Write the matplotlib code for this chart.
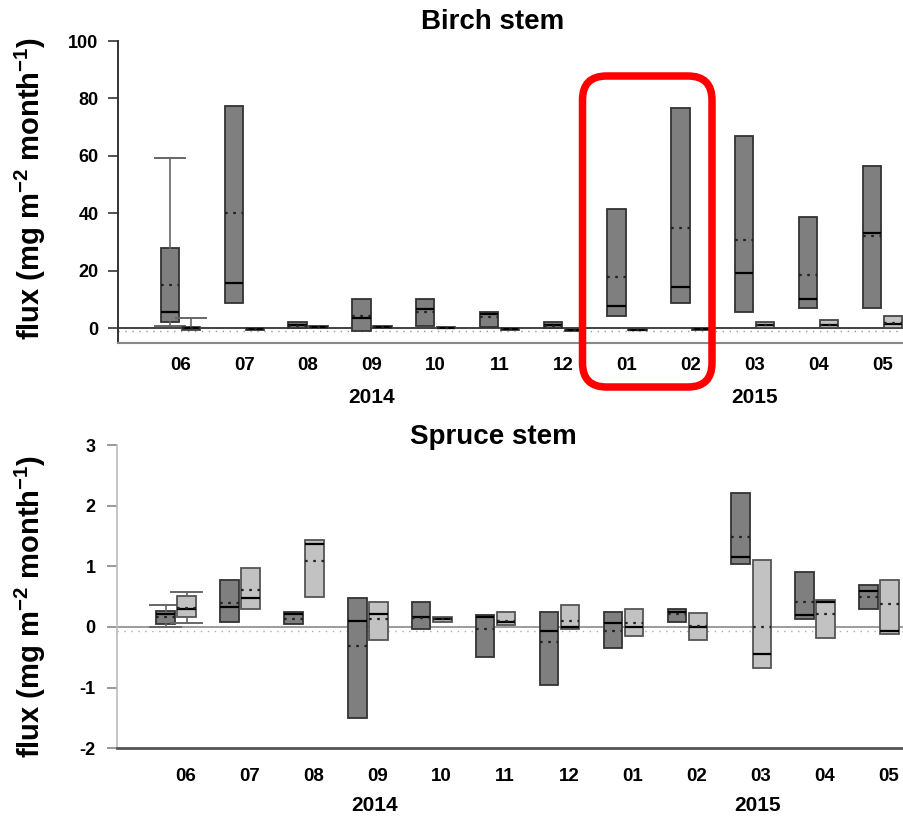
import numpy as np
import matplotlib.pyplot as plt
from matplotlib.patches import FancyBboxPatch

plt.rcParams['font.family'] = ['Liberation Sans', 'DejaVu Sans']
plt.rcParams['mathtext.fontset'] = 'custom'
plt.rcParams['mathtext.rm'] = 'Liberation Sans:bold'
plt.rcParams['mathtext.bf'] = 'Liberation Sans:bold'
plt.rcParams['axes.unicode_minus'] = False

months = ['06', '07', '08', '09', '10', '11', '12', '01', '02', '03', '04', '05']
years = ['2014', '2015']
year_month = [3, 9]

# Birch stem, first series (dark): quartiles, median, mean, whiskers (None = no whisker)
birch_a_q1 = [2.3, 8.7, 0.0, -0.9, 0.8, 0.6, 0.0, 4.3, 8.7, 5.8, 7.2, 7.2]
birch_a_med = [5.7, 15.7, 1.0, 3.5, 6.6, 5.0, 1.0, 7.8, 14.4, 19.4, 10.1, 33.1]
birch_a_q3 = [27.9, 77.5, 2.2, 10.3, 10.1, 5.8, 2.2, 41.6, 76.6, 66.8, 38.9, 56.5]
birch_a_mean = [15.0, 40.1, 0.8, 4.4, 5.8, 3.8, 0.8, 17.9, 35.0, 30.8, 18.6, 32.2]
birch_a_wlo = [0.9, None, None, None, None, None, None, None, None, None, None, None]
birch_a_whi = [59.4, None, None, None, None, None, None, None, None, None, None, None]

# Birch stem, second series (light)
birch_b_q1 = [-0.4, -0.5, 0.0, 0.0, 0.0, -0.5, -0.8, -0.6, -0.5, 0.0, 0.0, 0.0]
birch_b_med = [0.0, -0.2, 0.5, 0.4, 0.2, -0.3, -0.5, -0.4, -0.3, 1.0, 1.0, 1.5]
birch_b_q3 = [0.4, 0.0, 0.9, 0.9, 0.4, -0.1, -0.3, -0.2, -0.1, 2.2, 2.9, 4.4]
birch_b_mean = [0.0, -0.2, 0.5, 0.5, 0.2, -0.3, -0.5, -0.4, -0.3, 1.0, 1.2, 1.8]
birch_b_wlo = [None] * 12
birch_b_whi = [3.5, None, None, None, None, None, None, None, None, None, None, None]

# Spruce stem, first series (dark)
spruce_a_q1 = [0.05, 0.09, 0.05, -1.50, -0.04, -0.49, -0.96, -0.35, 0.09, 1.04, 0.13, 0.29]
spruce_a_med = [0.21, 0.33, 0.22, 0.10, 0.16, 0.16, -0.07, 0.07, 0.25, 1.15, 0.19, 0.59]
spruce_a_q3 = [0.27, 0.77, 0.25, 0.47, 0.41, 0.19, 0.25, 0.24, 0.30, 2.21, 0.91, 0.69]
spruce_a_mean = [0.17, 0.40, 0.13, -0.31, 0.15, -0.03, -0.25, -0.06, 0.21, 1.48, 0.42, 0.50]
spruce_a_wlo = [0.0, None, None, None, None, None, None, None, None, None, None, None]
spruce_a_whi = [0.37, None, None, None, None, None, None, None, None, None, None, None]

# Spruce stem, second series (light)
spruce_b_q1 = [0.16, 0.30, 0.50, -0.21, 0.09, 0.03, -0.04, -0.15, -0.21, -0.68, -0.18, -0.11]
spruce_b_med = [0.30, 0.47, 1.37, 0.21, 0.13, 0.09, 0.00, 0.00, 0.00, -0.45, 0.42, -0.06]
spruce_b_q3 = [0.51, 0.98, 1.43, 0.41, 0.16, 0.25, 0.37, 0.30, 0.23, 1.11, 0.44, 0.77]
spruce_b_mean = [0.31, 0.61, 1.08, 0.13, 0.13, 0.10, 0.10, 0.07, 0.02, 0.00, 0.22, 0.38]
spruce_b_wlo = [0.07, None, None, None, None, None, None, None, None, None, None, None]
spruce_b_whi = [0.58, None, None, None, None, None, None, None, None, None, None, None]

DARK = '#7f7f7f'
LIGHT = '#c2c2c2'
x = np.arange(len(months))


def draw_boxes(ax, pos, q1, med, q3, mean, wlo, whi, face, edge):
    stats = []
    for i in range(len(pos)):
        lo = q1[i] if wlo[i] is None else wlo[i]
        hi = q3[i] if whi[i] is None else whi[i]
        stats.append(dict(q1=q1[i], med=med[i], q3=q3[i], mean=mean[i],
                          whislo=lo, whishi=hi, fliers=[]))
    bp = ax.bxp(stats, positions=pos, widths=0.29, capwidths=0.48,
                patch_artist=True, showmeans=True, meanline=True,
                manage_ticks=False, zorder=3,
                boxprops=dict(facecolor=face, edgecolor=edge, linewidth=1.3),
                medianprops=dict(color='black', linewidth=1.6),
                meanprops=dict(color='#222222', linestyle=(0, (1.2, 2.5)), linewidth=1.6),
                whiskerprops=dict(color='#666666', linewidth=1.2),
                capprops=dict(color='#666666', linewidth=1.4))
    # hide whiskers and caps where there are none
    for i in range(len(pos)):
        if wlo[i] is None:
            bp['whiskers'][2 * i].set_visible(False)
            bp['caps'][2 * i].set_visible(False)
        if whi[i] is None:
            bp['whiskers'][2 * i + 1].set_visible(False)
            bp['caps'][2 * i + 1].set_visible(False)
    return bp


fig = plt.figure(figsize=(9.04, 8.17), dpi=100)

# ---- Birch stem ----
ax1 = fig.add_axes([0.1305, 0.5798, 0.8695, 0.3700])
draw_boxes(ax1, x - 0.165, birch_a_q1, birch_a_med, birch_a_q3, birch_a_mean,
           birch_a_wlo, birch_a_whi, DARK, '#333333')
draw_boxes(ax1, x + 0.165, birch_b_q1, birch_b_med, birch_b_q3, birch_b_mean,
           birch_b_wlo, birch_b_whi, LIGHT, '#444444')
ax1.axhline(0, color='#333333', lw=1.3, zorder=1)
ax1.axhline(-0.75, color='#999999', lw=1.0, ls=(0, (1, 4)), zorder=1)
ax1.set_xlim(-0.98, 11.34)
ax1.set_ylim(-5.2, 100)
ax1.set_yticks([0, 20, 40, 60, 80, 100])
ax1.set_xticks(x)
ax1.set_xticklabels(months, fontsize=13.5, fontweight='bold')
ax1.tick_params(axis='x', length=0, pad=10)
ax1.tick_params(axis='y', length=7, width=1.2, color='#333333', pad=7, labelsize=13)
for lab in ax1.get_yticklabels():
    lab.set_fontweight('bold')
ax1.spines['top'].set_visible(False)
ax1.spines['right'].set_visible(False)
ax1.spines['left'].set_color('#333333')
ax1.spines['left'].set_linewidth(1.4)
ax1.spines['bottom'].set_color('#888888')
ax1.spines['bottom'].set_linewidth(1.5)
for yr, m in zip(years, year_month):
    ax1.text(m, -0.18, yr, transform=ax1.get_xaxis_transform(),
             ha='center', va='center', fontsize=15, fontweight='bold')

# ---- Spruce stem ----
ax2 = fig.add_axes([0.1289, 0.0841, 0.8711, 0.3712])
draw_boxes(ax2, x - 0.165, spruce_a_q1, spruce_a_med, spruce_a_q3, spruce_a_mean,
           spruce_a_wlo, spruce_a_whi, DARK, '#333333')
draw_boxes(ax2, x + 0.165, spruce_b_q1, spruce_b_med, spruce_b_q3, spruce_b_mean,
           spruce_b_wlo, spruce_b_whi, LIGHT, '#555555')
ax2.axhline(0, color='#8a8a8a', lw=1.2, zorder=1)
ax2.axhline(-0.07, color='#aaaaaa', lw=1.0, ls=(0, (1, 4)), zorder=1)
ax2.set_xlim(-0.933, 11.39)
ax2.set_ylim(-2, 3)
ax2.set_yticks([-2, -1, 0, 1, 2, 3])
ax2.set_xticks(x + 0.15)
ax2.set_xticklabels(months, fontsize=13.5, fontweight='bold')
ax2.tick_params(axis='x', length=0, pad=14)
ax2.tick_params(axis='y', length=7, width=1.2, color='#888888', pad=8, labelsize=13)
for lab in ax2.get_yticklabels():
    lab.set_fontweight('bold')
ax2.spines['top'].set_visible(False)
ax2.spines['right'].set_visible(False)
ax2.spines['left'].set_color('#bbbbbb')
ax2.spines['left'].set_linewidth(1.2)
ax2.spines['bottom'].set_color('#555555')
ax2.spines['bottom'].set_linewidth(2.0)
for yr, m in zip(years, year_month):
    ax2.text(m + 0.1, -0.19, yr, transform=ax2.get_xaxis_transform(),
             ha='center', va='center', fontsize=15, fontweight='bold')

# titles and axis labels
ylab = r'flux (mg m$^{\mathbf{-2}}$ month$^{\mathbf{-1}}$)'
fig.text(493 / 904, 1 - 22 / 817, 'Birch stem', ha='center', va='center',
         fontsize=20, fontweight='bold')
fig.text(493 / 904, 1 - 437 / 817, 'Spruce stem', ha='center', va='center',
         fontsize=20, fontweight='bold')
fig.text(30 / 904, 1 - 188 / 817, ylab, rotation=90, ha='center', va='center',
         fontsize=21, fontweight='bold')
fig.text(30 / 904, 1 - 606 / 817, ylab, rotation=90, ha='center', va='center',
         fontsize=21, fontweight='bold')

# red highlight around Jan-Feb 2015
over = fig.add_axes([0, 0, 1, 1], facecolor='none')
over.set_xlim(0, 904)
over.set_ylim(817, 0)
over.axis('off')
over.add_patch(FancyBboxPatch((582.5, 76), 129.5, 311,
                              boxstyle='round,pad=0,rounding_size=24',
                              fill=False, edgecolor='#ff0000', linewidth=5.4))

fig.savefig('out.png', dpi=100)
